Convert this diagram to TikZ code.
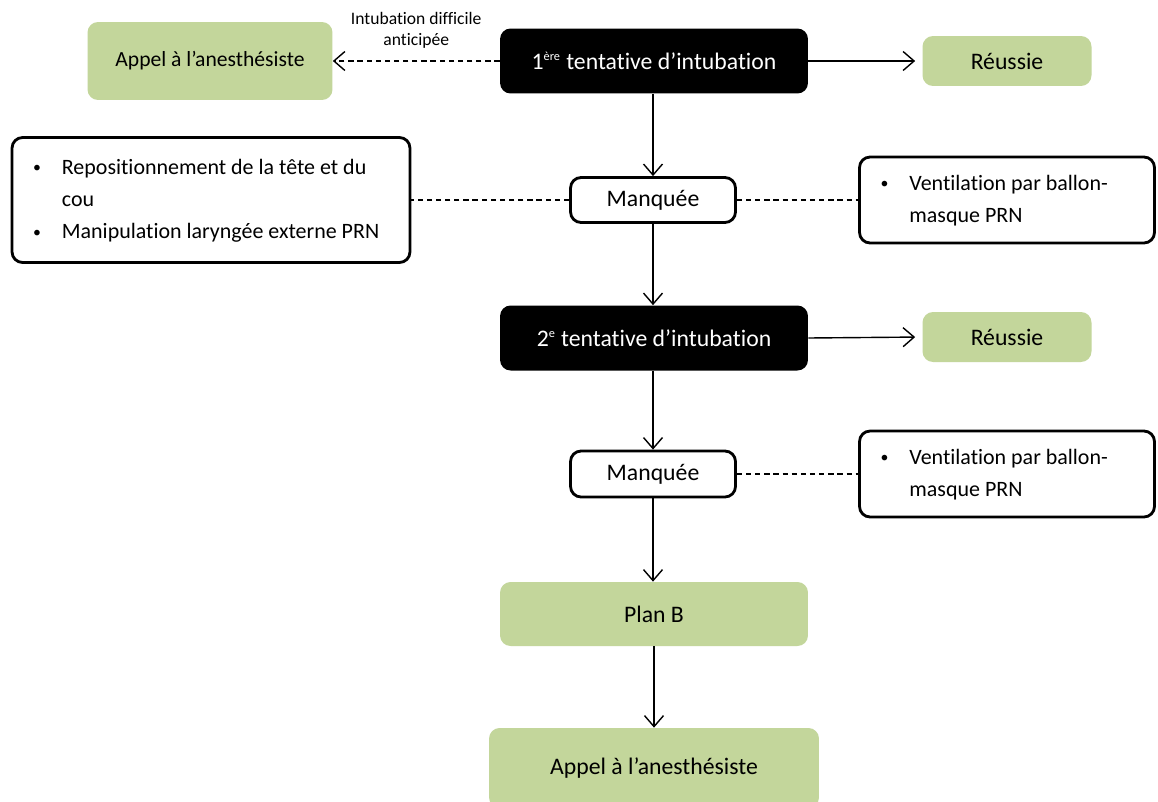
\documentclass[tikz,border=0pt]{standalone}
\usepackage{fontspec}
\setmainfont{Carlito}[Ligatures=NoCommon]
\usetikzlibrary{arrows.meta}
\definecolor{leaf}{RGB}{195,214,155}
\newcommand\dotmark{\raisebox{0.15ex}{\fontsize{9}{9}\selectfont•}}

\begin{document}
\begin{tikzpicture}[
        x=0.02cm, y=-0.02cm,
        font=\fontsize{13.5}{16}\selectfont,
        every node/.style={rounded corners=6pt, inner sep=2pt},
        blackbox/.style={fill=black, text=white, minimum width=6.16cm, minimum height=1.3cm},
        greenbox/.style={fill=leaf, minimum height=1cm},
        whitebox/.style={draw, line width=1.6pt, fill=white},
        listbox/.style={whitebox, inner xsep=0.42cm, font=\fontsize{12.5}{15}\selectfont,
                        execute at begin node={\spaceskip=0pt\xspaceskip=0pt}},
        arr/.style={draw, line width=0.8pt, -{Straight Barb[length=2.2mm, width=3.8mm]}},
        link/.style={draw, line width=0.8pt, dashed, dash pattern=on 3pt off 2.2pt}
    ]
 \useasboundingbox (0,0) rectangle (1158,801);
 \fill[white] (0,0) rectangle (1158,801);
 % first attempt row
 \node[greenbox, minimum width=4.9cm, minimum height=1.56cm, font=\fontsize{12.3}{15}\selectfont] (appelA) at (210,61) {Appel à l’anesthésiste};
 \node[blackbox] (try1) at (654,61) {1\textsuperscript{\scriptsize ère} tentative d’intubation};
 \node[greenbox, minimum width=3.38cm] (ok1) at (1007,61) {Réussie};
 % first failure
 \node[whitebox, minimum width=3.3cm, minimum height=0.9cm] (miss1) at (653,200) {Manquée};
 \node[listbox, text width=7.12cm, minimum height=2.5cm] (tips) at (211,200)
   {\renewcommand\arraystretch{1.22}%
    \begin{tabular}{@{}l@{\hspace{0.42cm}}l@{}}
     \dotmark & Repositionnement de la tête et du\\
              & cou\\
     \dotmark & Manipulation laryngée externe PRN
    \end{tabular}};
 \node[listbox, text width=5.06cm, minimum height=1.72cm] (bag1) at (1007,200)
   {\renewcommand\arraystretch{1.22}%
    \begin{tabular}{@{}l@{\hspace{0.42cm}}l@{}}
     \dotmark & Ventilation par ballon-\\
              & masque PRN
    \end{tabular}};
 % second attempt
 \node[blackbox] (try2) at (654,338) {2\textsuperscript{\scriptsize e} tentative d’intubation};
 \node[greenbox, minimum width=3.38cm] (ok2) at (1007,337) {Réussie};
 \node[whitebox, minimum width=3.3cm, minimum height=0.92cm] (miss2) at (653,474) {Manquée};
 \node[listbox, text width=5.06cm, minimum height=1.72cm] (bag2) at (1007,474)
   {\renewcommand\arraystretch{1.22}%
    \begin{tabular}{@{}l@{\hspace{0.42cm}}l@{}}
     \dotmark & Ventilation par ballon-\\
              & masque PRN
    \end{tabular}};
 % end of the chain
 \node[greenbox, minimum width=6.16cm, minimum height=1.28cm] (planB) at (654,614) {Plan B};
 \node[greenbox, minimum width=6.6cm, minimum height=1.6cm] (appelB) at (654,768) {Appel à l’anesthésiste};

 \draw[arr, dashed, dash pattern=on 3pt off 2.2pt] (try1.west) -- (appelA.east)
   node[midway, above=5pt, font=\fontsize{10}{12}\selectfont, align=center] {Intubation difficile\\anticipée};
 \draw[arr, shorten >=4pt] (try1.east) -- (ok1.west);
 \draw[arr] (try1.south -| miss1.north) -- (miss1.north);
 \draw[link] (miss1.west) -- (tips.east);
 \draw[link] (miss1.east) -- (bag1.west);
 \draw[arr] (miss1.south) -- (miss1.south |- try2.north);
 \draw[arr, shorten >=4pt] (try2.east) -- (ok2.west);
 \draw[arr] (try2.south -| miss2.north) -- (miss2.north);
 \draw[link] (miss2.east) -- (bag2.west);
 \draw[arr] (miss2.south) -- (miss2.south |- planB.north);
 \draw[arr] (planB.south -| appelB.north) -- (appelB.north);
\end{tikzpicture}
\end{document}
